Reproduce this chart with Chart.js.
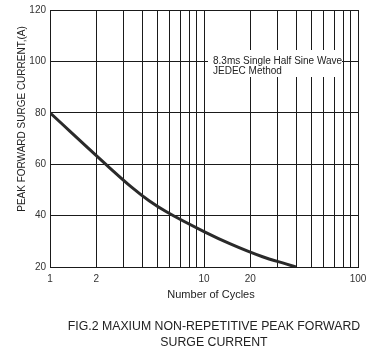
<!DOCTYPE html>
<html>
<head>
<meta charset="utf-8">
<script src="https://cdn.jsdelivr.net/npm/chart.js@4.4.1/dist/chart.umd.min.js"></script>
<style>
  html, body { margin: 0; padding: 0; background: #fff; }
  #wrap { position: relative; width: 392px; height: 358px; }
  #caption { position: absolute; left: 0; width: 428px; top: 318px; text-align: center;
    font-family: "Liberation Sans", Arial, sans-serif; font-size: 12.3px; line-height: 16px; color: #222; }
</style>
</head>
<body>
<div id="wrap">
  <canvas id="c" width="392" height="358"></canvas>
  <div id="caption">FIG.2 MAXIUM NON-REPETITIVE PEAK FORWARD<br>SURGE CURRENT</div>
</div>
<script>
const cycles  = [1, 2.4, 3.4, 4.4, 5.7, 10, 14.7, 24, 34, 39.5];
const current = [80, 59, 51, 45.8, 41.5, 33.8, 29.1, 24, 21.2, 20];
const xGrid   = [1,2,3,4,5,6,7,8,9,10,20,30,40,50,60,70,80,90,100];
const xLabels = [1, 2, 10, 20, 100];
const yTicks  = [20, 40, 60, 80, 100, 120];
const noteLines = ["8.3ms Single Half Sine Wave", "JEDEC Method"];
const xTitle = "Number of Cycles";
const yTitle = "PEAK FORWARD SURGE CURRENT,(A)";

const FONT = "'Liberation Sans', Arial, sans-serif";

const textPlugin = {
  id: 'texts',
  afterDatasetsDraw(chart) {
    const {ctx, chartArea: a} = chart;
    ctx.save();
    // note box
    ctx.fillStyle = '#fff';
    ctx.fillRect(a.left + 158, a.top + 40, 134, 27);
    ctx.fillStyle = '#222';
    ctx.font = "10px " + FONT;
    ctx.textBaseline = 'middle';
    ctx.textAlign = 'left';
    ctx.fillText(noteLines[0], a.left + 163, a.top + 51.7);
    ctx.fillText(noteLines[1], a.left + 163, a.top + 61.7);
    // axis titles
    ctx.font = "11px " + FONT;
    ctx.textAlign = 'center';
    ctx.fillText(xTitle, a.left + 161, a.bottom + 28);
    ctx.translate(22, a.top + 109);
    ctx.rotate(-Math.PI / 2);
    ctx.font = "10px 'Liberation Sans Narrow', " + FONT;
    ctx.fillText(yTitle, 0, 0);
    ctx.restore();
  }
};

new Chart(document.getElementById('c'), {
  type: 'line',
  data: {
    datasets: [{
      data: cycles.map((x, i) => ({x, y: current[i]})),
      borderColor: '#2a2a2a',
      borderWidth: 3,
      pointRadius: 0,
      cubicInterpolationMode: 'monotone',
      fill: false
    }]
  },
  options: {
    responsive: false,
    animation: false,
    layout: { padding: { top: 10, right: 34, bottom: 51, left: 0 } },
    plugins: { legend: { display: false }, tooltip: { enabled: false } },
    scales: {
      x: {
        type: 'logarithmic',
        min: 1, max: 100,
        afterBuildTicks(s) { s.ticks = xGrid.map(v => ({value: v})); },
        afterFit(s) { s.height = 40; },
        grid: { color: '#1a1a1a', lineWidth: 1, drawTicks: false },
        border: { color: '#1a1a1a' },
        ticks: {
          autoSkip: false, maxRotation: 0, padding: 6,
          color: '#333', font: { family: FONT, size: 10 },
          callback: (v) => xLabels.includes(v) ? String(v) : ''
        }
      },
      y: {
        min: 20, max: 120,
        afterBuildTicks(s) { s.ticks = yTicks.map(v => ({value: v})); },
        afterFit(s) { s.width = 50; },
        grid: { color: '#1a1a1a', lineWidth: 1, drawTicks: false },
        border: { color: '#1a1a1a' },
        ticks: { padding: 4, color: '#333', font: { family: FONT, size: 10 } }
      }
    }
  },
  plugins: [textPlugin]
});
</script>
</body>
</html>
